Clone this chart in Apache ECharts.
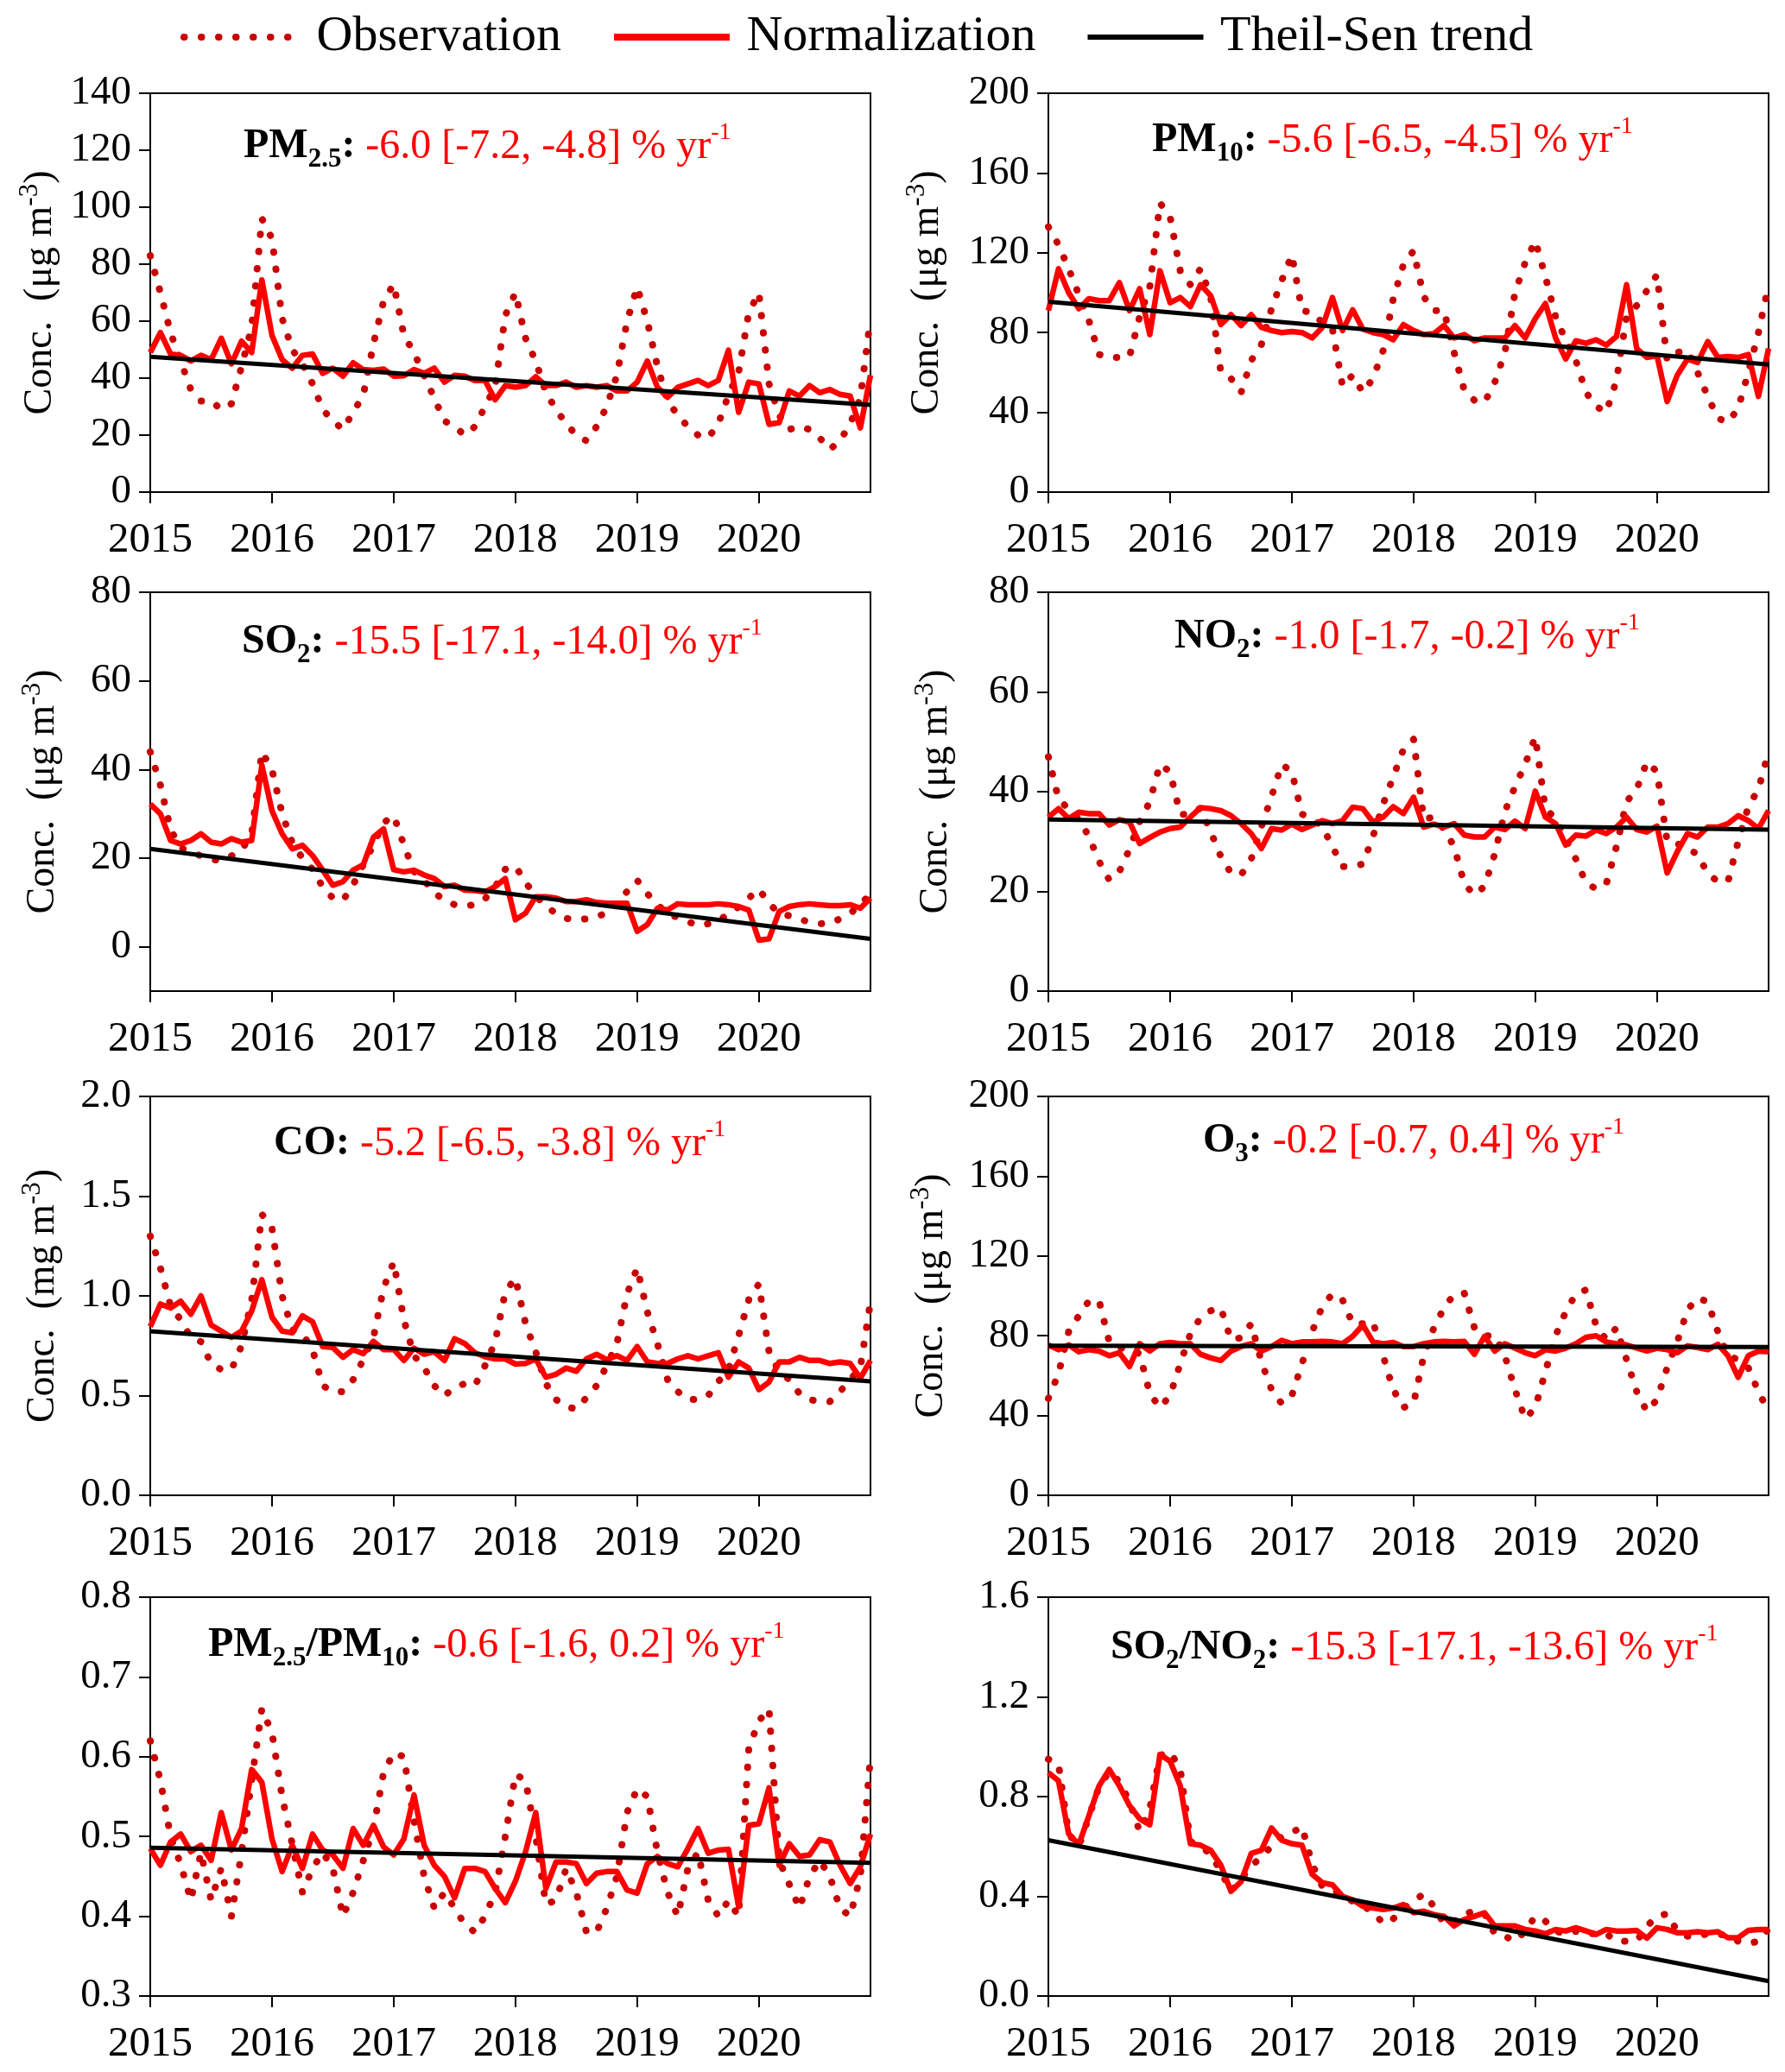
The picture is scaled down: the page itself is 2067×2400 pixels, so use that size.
<!DOCTYPE html>
<html><head><meta charset="utf-8">
<script src="https://cdn.jsdelivr.net/npm/echarts@6/dist/echarts.min.js"></script>
<style>html,body{margin:0;padding:0;background:#fff}#c{width:2067px;height:2400px}</style>
</head><body><div id="c"></div>
<script>
// ---------------- data (monthly, Jan 2015 .. Dec 2020) ----------------
const xTicks = [2015, 2016, 2017, 2018, 2019, 2020];
const seriesNames = ['Observation', 'Normalization', 'Theil-Sen trend'];

const pm25Obs = [83,70,56,46,36,32,32,29,31,44,58,96, 89,61,50,45,38,29,25,22,28,34,52,67, 73,55,49,41,33,25,23,20,23,30,37,62, 70,54,46,35,29,24,20,18,23,30,41,60, 72,60,44,32,27,23,20,19,24,34,42,63, 70,38,27,22,23,22,19,15,18,24,33,61];
const pm25Norm = [49,56,48.5,48,46,48,46.5,54,45,53,49,74.5, 55,46.5,43.5,48,48.5,41.7,43.5,40.7,45.4,43,42.7,43.2, 40.7,40.8,43,41.7,43.5,38.6,41,40.7,39.2,39.2,32.4,37.4, 36.8,37.4,40.5,37.4,37.4,38.6,36.8,37.4,36.8,37.4,35.5,35.5, 38.6,46,36.8,33.3,36.8,38,39.2,37.4,39.2,49.8,28,38.6, 38,23.8,24.4,35.5,33.7,37.4,34.9,36,34.3,33.7,22.5,41];
const pm25Trend = [47.5, 30.6];
const pm25Ticks = [0,20,40,60,80,100,120,140];

const pm10Obs = [133,124,112,99,86,69,67.5,67.5,68,88,103,145, 138,111,104,112,98,60,57,50,66,74,92,106, 119,91,90,85,82,53,58.7,50,57,71,97,114, 121,98,91,91,70,51,46,45,55,70,100,115, 126,108,88,76,66,50,43,40,56,88,93.5,101, 109,66,70,71,60,48,37,35,42,60,80,104];
const pm10Norm = [91,112,100,92,97,96,96,105,91,102,79,111, 95,97.6,93,104,98.5,84,89,83.5,89,82.6,81,80, 80.5,80,77.3,82.6,97.6,81,91.4,81.7,80,79,76.4,84, 81,79,79.4,83.5,77.3,79,75.9,77.3,77.3,77.3,83.5,77.3, 87,94.6,77.3,66.7,75.9,74.6,76.4,73.7,78,104,72,67.5, 68.4,45.4,58.7,66.7,65,75.5,67.5,68,67.5,69,48,72];
const pm10Trend = [95.5, 64];
const pm10Ticks = [0,40,80,120,160,200];

const so2Obs = [44,36.5,26.5,22.3,21.5,20.5,19.7,19.5,20.5,21.8,25.5,44, 40,30,23.5,20,17.5,13.5,11,10.5,14,18.5,23,28, 29.6,23,17,15,12.2,10.5,9.5,9.2,9.5,10.8,13.5,17.5, 18.2,14.5,11.5,9.2,7.5,6.4,6.1,6.3,6.7,7.7,9.5,12.5, 15,12,9.5,7.5,6.6,5.7,4.8,5.2,5.8,7.5,9,11, 13,9.8,7.5,7,6.3,5.5,5.2,5.3,6.3,7.5,9.5,12];
const so2Norm = [32.2,30,24,23.2,24,25.5,23.6,23.2,24.4,23.6,24,41, 30.7,25.5,22.1,22.9,20.6,17.3,13.9,14.7,17.3,18.5,24.7,26.6, 17.4,16.9,17.3,16.2,15.4,13.6,13.9,12.8,12.7,12.4,13.6,15.4, 6.1,7.6,11.3,11.3,11,10.2,10.2,10.6,10,9.8,9.8,9.8, 3.5,5,8.7,8.3,9.7,9.5,9.5,9.5,9.7,9.5,9.1,8.3, 1.5,1.8,8,9.1,9.5,9.7,9.5,9.3,9.3,9.5,8.7,11];
const so2Trend = [22.1, 1.8];
const so2Ticks = [0,20,40,60,80];

const no2Obs = [47,38.5,36.5,34.5,31,26,22.3,24,28.5,34,38,45.5, 44,35.4,35.5,36.7,32,27,23.7,23.3,26.5,33,39,45.5, 44,35.5,34.6,33,29,25,25,25.5,31,37.5,43,48.5, 50.5,34.5,34.9,32.5,29,21.5,19.3,21,27.5,36,41,45.5, 51,36.5,34.7,30.5,26.5,21.7,20.5,21.5,29,38,40.5,46, 44,30,29.6,28.5,27.5,23.5,22,22,30,37,40.5,48];
const no2Norm = [34.9,36.6,34.6,35.9,35.6,35.6,33.3,34.4,33.9,29.6,30.8,31.9, 32.6,32.9,34.9,36.8,36.6,36.2,35.2,33.6,31.6,28.6,32.6,32.3, 33.5,32.4,33.3,34.2,33.6,34.2,36.9,36.6,33.9,34.9,37,35.6, 38.9,32.9,33.5,32.9,33.6,31.3,30.9,30.9,32.9,32.4,34.1,32.6, 40.1,34.9,33.6,29.3,31.3,31.1,32.3,31.6,32.9,34.9,32.4,31.9, 33.1,23.7,28,31.6,30.9,32.9,32.9,33.6,35.2,34.2,32.6,36.2];
const no2Trend = [34.4, 32.4];
const no2Ticks = [0,20,40,60,80];

const coObs = [1.30,1.14,0.95,0.88,0.79,0.77,0.66,0.63,0.63,0.75,0.98,1.41, 1.34,1.00,0.83,0.81,0.73,0.55,0.52,0.52,0.58,0.68,0.79,1.04, 1.17,0.88,0.70,0.64,0.55,0.50,0.54,0.56,0.55,0.65,0.77,1.02, 1.09,0.86,0.72,0.56,0.48,0.445,0.432,0.49,0.55,0.65,0.76,1.01, 1.14,0.92,0.76,0.58,0.52,0.48,0.48,0.50,0.57,0.63,0.80,0.98, 1.06,0.72,0.62,0.58,0.51,0.48,0.47,0.47,0.52,0.58,0.64,0.97];
const coNorm = [0.846,0.959,0.939,0.973,0.908,1.0,0.854,0.823,0.792,0.823,0.924,1.081, 0.893,0.823,0.815,0.9,0.87,0.746,0.741,0.692,0.731,0.71,0.772,0.731, 0.731,0.676,0.738,0.707,0.72,0.676,0.785,0.761,0.715,0.695,0.684,0.684, 0.658,0.661,0.684,0.592,0.607,0.638,0.622,0.684,0.707,0.68,0.7,0.676, 0.746,0.669,0.661,0.661,0.684,0.7,0.684,0.7,0.715,0.592,0.669,0.638, 0.53,0.568,0.669,0.669,0.692,0.676,0.676,0.661,0.669,0.661,0.587,0.676];
const coTrend = [0.823, 0.571];
const coTicks = [0,0.5,1.0,1.5,2.0];

const o3Obs = [48.6,61,82,90,97.5,97.5,77,74,73,71,51,44, 50,66,81,89,92.5,94,78,79,86,67,53,46, 50,66,82,94.7,101,98,86,86,87,70,53,44, 46,70,84,94,100.8,101.3,84,80,80,70,53,38.3, 44,62,80,92,101,103,85,78,84,68,52,42, 48,64,77,93,99,97,82,70,68,64,52,42];
const o3Norm = [75.4,73,75.4,72,73,72.3,70,71.5,64.6,76,72.3,76, 76.6,76,76,70.7,68.9,67.6,72.3,74.6,76,72.3,74.6,77.7, 76,76.9,76.9,77.2,76.9,76,79.7,85.4,76.9,76,76.6,74.6, 74.6,76,76.9,77.2,76.9,77.2,70.7,79.7,72.3,76,73.8,71.5, 70,73,72.3,73.8,76,79.2,80,76.9,76,75.4,73.8,72.3, 73.8,73,71.5,74.9,74.1,73,75.7,70,59.2,70,72.3,72];
const o3Trend = [75, 74.3];
const o3Ticks = [0,40,80,120,160,200];

const ratioObs = [0.62,0.57,0.50,0.465,0.42,0.48,0.42,0.46,0.40,0.48,0.57,0.66, 0.63,0.55,0.49,0.43,0.46,0.48,0.46,0.40,0.43,0.47,0.51,0.58, 0.605,0.60,0.52,0.45,0.41,0.43,0.41,0.39,0.38,0.40,0.43,0.50, 0.578,0.57,0.50,0.415,0.42,0.46,0.43,0.38,0.38,0.41,0.45,0.53, 0.56,0.55,0.48,0.43,0.40,0.46,0.48,0.42,0.40,0.42,0.40,0.61, 0.645,0.66,0.47,0.44,0.41,0.45,0.47,0.45,0.41,0.40,0.45,0.60];
const ratioNorm = [0.485,0.464,0.493,0.503,0.481,0.489,0.470,0.530,0.483,0.510,0.584,0.568, 0.497,0.456,0.489,0.460,0.503,0.483,0.477,0.460,0.510,0.489,0.514,0.487, 0.477,0.497,0.552,0.489,0.464,0.450,0.423,0.460,0.460,0.456,0.435,0.417, 0.444,0.481,0.530,0.435,0.468,0.468,0.466,0.441,0.454,0.456,0.456,0.433, 0.429,0.466,0.475,0.466,0.462,0.485,0.510,0.479,0.483,0.484,0.412,0.514, 0.516,0.561,0.464,0.491,0.475,0.477,0.496,0.493,0.464,0.441,0.462,0.503];
const ratioTrend = [0.486, 0.467];
const ratioTicks = [0.3,0.4,0.5,0.6,0.7,0.8];

const so2no2Obs = [0.95,0.93,0.65,0.60,0.72,0.84,0.90,0.86,0.78,0.66,0.75,0.965, 0.98,0.91,0.62,0.60,0.57,0.50,0.42,0.47,0.52,0.56,0.60,0.64, 0.655,0.68,0.53,0.44,0.43,0.40,0.38,0.36,0.34,0.29,0.31,0.35, 0.38,0.41,0.36,0.29,0.30,0.33,0.34,0.33,0.25,0.24,0.22,0.26, 0.32,0.30,0.26,0.25,0.26,0.25,0.25,0.25,0.22,0.22,0.22,0.28, 0.32,0.33,0.26,0.24,0.24,0.25,0.25,0.24,0.22,0.21,0.22,0.27];
const so2no2Norm = [0.896,0.863,0.651,0.607,0.724,0.843,0.909,0.843,0.764,0.711,0.687,0.969, 0.942,0.843,0.611,0.605,0.585,0.525,0.420,0.459,0.572,0.585,0.674,0.625, 0.611,0.605,0.488,0.455,0.446,0.400,0.386,0.360,0.353,0.347,0.353,0.367, 0.334,0.340,0.327,0.320,0.281,0.307,0.320,0.334,0.281,0.281,0.281,0.267, 0.261,0.250,0.267,0.261,0.274,0.261,0.247,0.267,0.261,0.261,0.263,0.232, 0.274,0.267,0.254,0.254,0.258,0.254,0.258,0.234,0.234,0.263,0.267,0.267];
const so2no2Trend = [0.625, 0.06];
const so2no2Ticks = [0,0.4,0.8,1.2,1.6];

// ---------------- build ----------------
const months = pm25Obs.map((_, i) => xTicks[0] + i / 12);
const xEnd = months[months.length - 1];
const toPairs = vals => vals.map((v, i) => [months[i], v]);

const panels = [
  {obs: pm25Obs, norm: pm25Norm, trend: pm25Trend, ticks: pm25Ticks, min: 0, max: 140, dec: 0,
   title: '{b|PM}{bs|2.5}{b|:}{r| -6.0 [-7.2, -4.8] % yr}{rs|-1}', tx: 282, tb: 186, unit: 'μg', nx: 47},
  {obs: pm10Obs, norm: pm10Norm, trend: pm10Trend, ticks: pm10Ticks, min: 0, max: 200, dec: 0,
   title: '{b|PM}{bs|10}{b|:}{r| -5.6 [-6.5, -4.5] % yr}{rs|-1}', tx: 1334, tb: 179, unit: 'μg', nx: 1074},
  {obs: so2Obs, norm: so2Norm, trend: so2Trend, ticks: so2Ticks, min: -10, max: 80, dec: 0,
   title: '{b|SO}{bs|2}{b|:}{r| -15.5 [-17.1, -14.0] % yr}{rs|-1}', tx: 280, tb: 760, unit: 'μg', nx: 50},
  {obs: no2Obs, norm: no2Norm, trend: no2Trend, ticks: no2Ticks, min: 0, max: 80, dec: 0,
   title: '{b|NO}{bs|2}{b|:}{r| -1.0 [-1.7, -0.2] % yr}{rs|-1}', tx: 1360, tb: 754, unit: 'μg', nx: 1084},
  {obs: coObs, norm: coNorm, trend: coTrend, ticks: coTicks, min: 0, max: 2, dec: 1,
   title: '{b|CO:}{r| -5.2 [-6.5, -3.8] % yr}{rs|-1}', tx: 317, tb: 1341, unit: 'mg', nx: 50},
  {obs: o3Obs, norm: o3Norm, trend: o3Trend, ticks: o3Ticks, min: 0, max: 200, dec: 0,
   title: '{b|O}{bs|3}{b|:}{r| -0.2 [-0.7, 0.4] % yr}{rs|-1}', tx: 1393, tb: 1338, unit: 'μg', nx: 1079},
  {obs: ratioObs, norm: ratioNorm, trend: ratioTrend, ticks: ratioTicks, min: 0.3, max: 0.8, dec: 1,
   title: '{b|PM}{bs|2.5}{b|/PM}{bs|10}{b|:}{r| -0.6 [-1.6, 0.2] % yr}{rs|-1}', tx: 241, tb: 1922, unit: null},
  {obs: so2no2Obs, norm: so2no2Norm, trend: so2no2Trend, ticks: so2no2Ticks, min: 0, max: 1.6, dec: 1,
   title: '{b|SO}{bs|2}{b|/NO}{bs|2}{b|:}{r| -15.3 [-17.1, -13.6] % yr}{rs|-1}', tx: 1286, tb: 1925, unit: null}
];

const FONT = "'Liberation Serif', 'Times New Roman', serif";
const colLeft = [174, 1214];
const rowTop = [108, 686, 1270, 1850];
const gridW = 834, gridH = 462;

const obsStyle = {color: '#c80000', width: 8, type: [0.5, 19.5], cap: 'round', join: 'round'};
const normStyle = {color: '#ff0000', width: 6.5, join: 'round'};
const trendStyle = {color: '#000000', width: 5};

const grids = [], xAxes = [], yAxes = [], series = [], graphics = [];

const titleRich = {
  b: {fontFamily: FONT, fontWeight: 'bold', fontSize: 48, lineHeight: 60, fill: '#000'},
  bs: {fontFamily: FONT, fontWeight: 'bold', fontSize: 31, lineHeight: 24, verticalAlign: 'bottom', fill: '#000'},
  r: {fontFamily: FONT, fontSize: 48, lineHeight: 60, fill: '#ff0000'},
  rs: {fontFamily: FONT, fontSize: 28, lineHeight: 38, verticalAlign: 'top', fill: '#ff0000'}
};
const nameRich = {
  m: {fontFamily: FONT, fontSize: 46, lineHeight: 56, fill: '#000'},
  s: {fontFamily: FONT, fontSize: 31, lineHeight: 36, verticalAlign: 'top', fill: '#000'}
};

panels.forEach((p, i) => {
  const col = i % 2, row = Math.floor(i / 2);
  const left = colLeft[col], top = rowTop[row];
  grids.push({left, top, width: gridW, height: gridH, show: true, borderColor: '#000', borderWidth: 2, backgroundColor: 'transparent'});
  xAxes.push({
    gridIndex: i, type: 'value', min: xTicks[0], max: xEnd, interval: 1,
    axisLine: {show: true, onZero: false, lineStyle: {color: '#000', width: 2}},
    axisTick: {show: true, inside: false, length: 13, lineStyle: {color: '#000', width: 2}, customValues: xTicks},
    axisLabel: {show: true, margin: 32, fontFamily: FONT, fontSize: 49, color: '#000', customValues: xTicks,
      formatter: v => String(Math.round(v))},
    splitLine: {show: false}
  });
  yAxes.push({
    gridIndex: i, type: 'value', min: p.min, max: p.max,
    axisLine: {show: true, onZero: false, lineStyle: {color: '#000', width: 2}},
    axisTick: {show: true, inside: false, length: 13, lineStyle: {color: '#000', width: 2}, customValues: p.ticks},
    axisLabel: {show: true, margin: 22, fontFamily: FONT, fontSize: 47, color: '#000', customValues: p.ticks,
      formatter: v => Number(v).toFixed(p.dec)},
    splitLine: {show: false}
  });
  series.push({
    name: seriesNames[0], type: 'line', xAxisIndex: i, yAxisIndex: i, data: toPairs(p.obs),
    symbol: 'none', smooth: false, z: 2, lineStyle: obsStyle, itemStyle: {color: obsStyle.color}
  });
  series.push({
    name: seriesNames[1], type: 'line', xAxisIndex: i, yAxisIndex: i, data: toPairs(p.norm),
    symbol: 'none', smooth: false, z: 3, lineStyle: normStyle, itemStyle: {color: normStyle.color}
  });
  series.push({
    name: seriesNames[2], type: 'line', xAxisIndex: i, yAxisIndex: i,
    data: [[months[0], p.trend[0]], [xEnd, p.trend[1]]],
    symbol: 'none', z: 4, lineStyle: trendStyle, itemStyle: {color: trendStyle.color}
  });
  graphics.push({
    type: 'text', x: p.tx, y: p.tb - 46, z: 10,
    style: {text: p.title, rich: titleRich, align: 'left', verticalAlign: 'top',
      fontFamily: FONT, fontSize: 48, fill: '#000'}
  });
  if (p.unit) {
    graphics.push({
      type: 'text', x: p.nx, y: top + gridH / 2, rotation: Math.PI / 2, z: 10,
      style: {text: '{m|Conc.  (' + p.unit + ' m}{s|-3}{m|)}', rich: nameRich, align: 'center', verticalAlign: 'middle',
        fontFamily: FONT, fontSize: 46, fill: '#000'}
    });
  }
});

const chart = echarts.init(document.getElementById('c'), null, {renderer: 'canvas', width: 2067, height: 2400});
chart.setOption({
  backgroundColor: '#ffffff',
  animation: false,
  legend: {
    show: true,
    data: [
      {name: seriesNames[0], lineStyle: {color: obsStyle.color, width: 8, type: [0.5, 19.5], cap: 'round'}},
      {name: seriesNames[1], lineStyle: {color: normStyle.color, width: 8}},
      {name: seriesNames[2], lineStyle: {color: trendStyle.color, width: 6}}
    ],
    left: 204, top: 6, itemWidth: 134, itemHeight: 30, itemGap: 57,
    formatter: ' {name}',
    itemStyle: {opacity: 0},
    textStyle: {fontFamily: FONT, fontSize: 58, color: '#000', lineHeight: 64},
    selectedMode: false
  },
  grid: grids,
  xAxis: xAxes,
  yAxis: yAxes,
  series: series,
  graphic: graphics
});
</script>
</body></html>
